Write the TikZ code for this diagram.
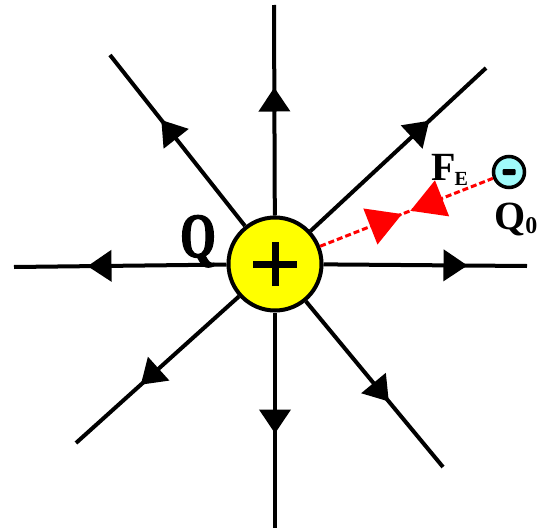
\documentclass[tikz,border=0pt]{standalone}
\usepackage{fontspec}
\setmainfont{Liberation Serif}
\newfontfamily\tallqfont[FakeStretch=0.72,FakeBold=2]{Liberation Serif Bold}
\usepackage{tikz}
\usepackage{xcolor}
\usetikzlibrary{arrows.meta,decorations.markings}
\definecolor{chargeyellow}{HTML}{FFFF00}
\definecolor{testcyan}{HTML}{A0FAFA}
\definecolor{forcered}{HTML}{FF0000}
\tikzset{
  fieldline/.style={draw=black,line width=4pt},
  fieldarr/.style={postaction={decorate},
                   decoration={markings,mark=at position #1 with {\arrow{Triangle[length=24pt,width=31pt]}}}},
  bigcharge/.style={circle,draw=black,fill=chargeyellow,line width=4pt,
                    minimum size=93pt,inner sep=0pt},
  smallcharge/.style={circle,draw=black,fill=testcyan,line width=3.5pt,
                      minimum size=31pt,inner sep=0pt},
  forceline/.style={color=forcered,line width=3pt,dash pattern=on 6pt off 3pt},
  forcearr/.style={postaction={decorate},
                   decoration={markings,
                     mark=at position 88pt with {\arrow{Triangle[length=34pt,width=38pt]}},
                     mark=at position 97pt with {\arrowreversed{Triangle[length=34pt,width=38pt]}}}},
  chargelabel/.style={font=\bfseries\fontsize{40}{40}\selectfont,inner sep=0pt}
}

\begin{document}
\begin{tikzpicture}[x=1pt,y=-1pt]
  \useasboundingbox (0,0) rectangle (541,530);
  \node[bigcharge] (Q) at (275,264) {};
  \draw[line width=7pt] ([xshift=-22pt]Q.center) -- ([xshift=22pt]Q.center);
  \draw[line width=7pt] ([yshift=-22pt]Q.center) -- ([yshift=22pt]Q.center);

  \coordinate (up) at (274,5);
  \coordinate (down) at (275,528);
  \coordinate (left) at (14,267);
  \coordinate (right) at (527,266);
  \coordinate (upleft) at (110,55);
  \coordinate (upright) at (486,68);
  \coordinate (downleft) at (76,443);
  \coordinate (downright) at (443,467);
  \foreach \e/\d in {up/128,down/121,left/139,right/144,upleft/135,upright/162,downleft/132,downright/130}
    \draw[fieldline,fieldarr=\d pt] (Q) -- (\e);

  \node[smallcharge] (q0) at (509,172) {};
  \fill[rounded corners=1pt] ([xshift=-6.5pt,yshift=-3pt]q0.center) rectangle ([xshift=6.5pt,yshift=3pt]q0.center);
  \draw[forceline,forcearr] (Q) -- (q0);

  \node[chargelabel,font=\tallqfont\fontsize{63}{63}\selectfont,anchor=base] (Qlab) at (198,257) {Q};
  \node[chargelabel,anchor=base west] (FElab) at (431,180) {F\kern-1pt\raisebox{-5pt}{\fontsize{20}{20}\selectfont E}};
  \node[chargelabel,anchor=base west] (Q0lab) at (494,229) {Q\raisebox{-4pt}{\fontsize{24}{24}\selectfont 0}};
\end{tikzpicture}
\end{document}
